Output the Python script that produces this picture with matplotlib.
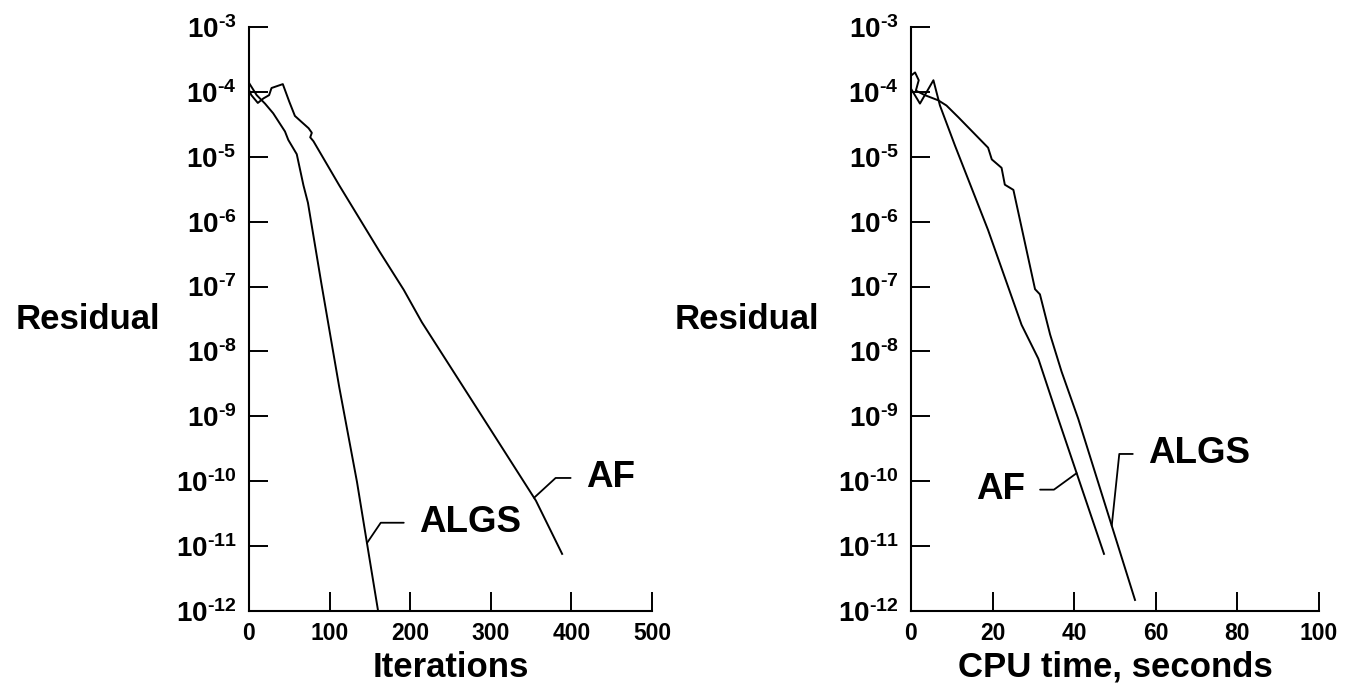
#!/usr/bin/env python3

import numpy as np
import matplotlib
matplotlib.use("Agg")
import matplotlib.pyplot as plt
from matplotlib.ticker import NullLocator

plt.rcParams["font.family"] = ["Liberation Sans", "DejaVu Sans"]
plt.rcParams["font.weight"] = "bold"
plt.rcParams["mathtext.fontset"] = "custom"
plt.rcParams["mathtext.rm"] = "Liberation Sans:bold"
plt.rcParams["mathtext.bf"] = "Liberation Sans:bold"

# log10(residual)
iter_af = [0, 3, 11, 18, 25, 28, 42, 50, 57, 65, 74, 78, 76, 80, 112, 162, 192,
           214.5, 300, 356, 388.5]
log_af_iter = [-3.97, -4.05, -4.17, -4.10, -4.05, -3.94, -3.88, -4.15, -4.37,
               -4.46, -4.56, -4.63, -4.70, -4.76, -5.44, -6.46, -7.05, -7.55,
               -9.21, -10.30, -11.12]

iter_algs = [0, 9.6, 19.9, 30.1, 44.7, 48.8, 59.3, 67.6, 73.2, 89.8, 112, 134,
             147.8, 160.2]
log_algs_iter = [-3.86, -4.05, -4.18, -4.33, -4.61, -4.74, -4.96, -5.44, -5.71,
                 -6.95, -8.55, -10.01, -11.06, -12.0]

cpu_af = [0, 2.2, 5.5, 7.1, 10.8, 18.9, 27.1, 31.2, 36.1, 47.3]
log_af_cpu = [-3.95, -4.18, -3.82, -4.21, -4.83, -6.13, -7.59, -8.11, -9.04,
              -11.12]

cpu_algs = [0, 1.0, 1.9, 1.2, 3.4, 6.7, 8.7, 11.6, 18.9, 19.8, 22.2, 23.0, 25.1,
            30.4, 31.6, 34.1, 36.9, 41.0, 54.9]
log_algs_cpu = [-3.75, -3.70, -3.82, -3.98, -4.05, -4.13, -4.21, -4.39, -4.86,
                -5.04, -5.17, -5.43, -5.51, -7.04, -7.12, -7.74, -8.31, -9.04,
                -11.83]

decades = list(range(-12, -2))
iter_ticks = [0, 100, 200, 300, 400, 500]
cpu_ticks = [0, 20, 40, 60, 80, 100]


def style_axes(ax, xticks, xlabel):
    ax.set_yscale("log")
    ax.set_ylim(1e-12, 1e-3)
    ax.set_xlim(xticks[0], xticks[-1])
    ax.set_xticks(xticks)
    ax.set_xticklabels([str(t) for t in xticks], fontsize=16.5, fontweight="bold")
    ax.set_yticks([10.0 ** d for d in decades])
    # short hyphen in the exponent, as in the scanned figure
    ax.set_yticklabels([f"$\\mathbf{{10^{{\u2010{abs(d)}}}}}$" for d in decades],
                       fontsize=20)
    ax.yaxis.set_minor_locator(NullLocator())
    ax.xaxis.set_minor_locator(NullLocator())
    for side in ["top", "right"]:
        ax.spines[side].set_visible(False)
    for side in ["left", "bottom"]:
        ax.spines[side].set_linewidth(1.5)
    ax.tick_params(axis="y", direction="in", length=14, width=1.4, pad=9)
    ax.tick_params(axis="x", direction="in", length=14, width=1.4, pad=8)
    ax.set_xlabel(xlabel, fontsize=25, fontweight="bold", labelpad=4)
    ax.set_ylabel("Residual", fontsize=25, fontweight="bold", rotation=0,
                  ha="right", va="center")


def label_curve(ax, text, x, logy, x_touch, text_pos, angle, ha):
    y_touch = 10 ** np.interp(x_touch, x, logy)
    ax.annotate(
        text,
        xy=(x_touch, y_touch),
        xytext=(text_pos[0], 10 ** text_pos[1]),
        fontsize=26.5,
        fontweight="bold",
        ha=ha,
        va="center",
        arrowprops=dict(
            arrowstyle="-",
            color="black",
            lw=1.3,
            shrinkA=9,
            shrinkB=0,
            relpos=(0.0, 0.5) if ha == "left" else (1.0, 0.5),
            connectionstyle=f"angle,angleA=0,angleB={angle},rad=0",
        ),
    )


fig = plt.figure(figsize=(13.53, 6.91), dpi=100)
ax1 = fig.add_axes([0.1840, 0.1158, 0.2979, 0.8451])
ax2 = fig.add_axes([0.6733, 0.1158, 0.3016, 0.8451])

ax1.plot(iter_af, 10 ** np.array(log_af_iter), color="black", lw=1.4)
ax1.plot(iter_algs, 10 ** np.array(log_algs_iter), color="black", lw=1.4)
style_axes(ax1, iter_ticks, "Iterations")
ax1.yaxis.set_label_coords(-0.221, 0.5)
label_curve(ax1, "AF", iter_af, log_af_iter, 353.7, (418, -9.95), 42.6, "left")
label_curve(ax1, "ALGS", iter_algs, log_algs_iter, 146.4, (211, -10.64), 55.9, "left")

ax2.plot(cpu_af, 10 ** np.array(log_af_cpu), color="black", lw=1.4)
ax2.plot(cpu_algs, 10 ** np.array(log_algs_cpu), color="black", lw=1.4)
style_axes(ax2, cpu_ticks, "CPU time, seconds")
ax2.yaxis.set_label_coords(-0.226, 0.5)
label_curve(ax2, "AF", cpu_af, log_af_cpu, 40.6, (27.9, -10.13), 36.0, "right")
label_curve(ax2, "ALGS", cpu_algs, log_algs_cpu, 49.2, (58.1, -9.58), 84.0, "left")

fig.savefig("out.png", dpi=100)
